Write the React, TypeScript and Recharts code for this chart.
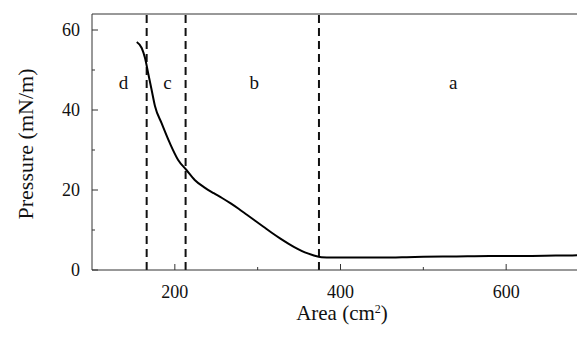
import React from 'react';
import { LineChart, Line, XAxis, YAxis, ReferenceLine, ReferenceDot } from 'recharts';

// isotherm
const areas = [154, 160, 164, 168, 172, 176, 184, 194, 204, 214, 224, 236, 247, 257, 267, 277, 287, 297, 307, 317, 327, 337, 347, 357, 367, 377, 390, 420, 450, 480, 500, 540, 580, 620, 660, 700];
const pressures = [57, 55.5, 53, 49, 45, 41, 36.7, 31.7, 27.5, 25, 22.5, 20.6, 19.2, 18, 16.7, 15.3, 13.8, 12.3, 10.8, 9.3, 7.9, 6.6, 5.4, 4.4, 3.7, 3.2, 3.1, 3.1, 3.1, 3.2, 3.3, 3.4, 3.5, 3.5, 3.6, 3.7];

const phaseBounds = [166, 213, 374];
const phaseLabels = ['d', 'c', 'b', 'a'];
const phaseLabelX = [138, 191, 296, 536];
const phaseLabelY = 47;

const xTicks = [200, 300, 400, 500, 600];
const xMajor = [200, 400, 600];
const yTicks = [0, 10, 20, 30, 40, 50, 60];
const yMajor = [0, 20, 40, 60];

const data = areas.map((a, i) => ({ area: a, pressure: pressures[i] }));

const FONT = '"Liberation Serif", "Times New Roman", serif';

const XTick = (props: any) => {
  const { x, y, payload } = props;
  const major = xMajor.includes(payload.value);
  return (
    <g>
      <line x1={x} x2={x} y1={y} y2={y - (major ? 6 : 3)} stroke="#333" strokeWidth={1} />
      {major && (
        <text x={x} y={y + 28} textAnchor="middle" fontSize={18} fontFamily={FONT} fill="#111">
          {payload.value}
        </text>
      )}
    </g>
  );
};

const YTick = (props: any) => {
  const { x, y, payload } = props;
  const major = yMajor.includes(payload.value);
  return (
    <g>
      <line x1={x} x2={x + (major ? 6 : 3)} y1={y} y2={y} stroke="#333" strokeWidth={1} />
      {major && (
        <text x={x - 12} y={y + 6} textAnchor="end" fontSize={18} fontFamily={FONT} fill="#111">
          {payload.value}
        </text>
      )}
    </g>
  );
};

export default function App() {
  return (
    <div style={{ position: 'absolute', left: 0, top: 0, width: 577, height: 349, overflow: 'hidden', background: '#fff' }}>
      <LineChart width={600} height={349} data={data} margin={{ top: 14, right: 11, bottom: 0, left: 0 }}>
        <XAxis
          dataKey="area"
          type="number"
          domain={[100, 700]}
          ticks={xTicks}
          tick={<XTick />}
          tickLine={false}
          tickSize={0}
          tickMargin={0}
          axisLine={{ stroke: '#333' }}
          height={79}
        />
        <YAxis
          type="number"
          domain={[0, 64]}
          ticks={yTicks}
          tick={<YTick />}
          tickLine={false}
          tickSize={0}
          tickMargin={0}
          axisLine={{ stroke: '#333' }}
          width={92}
        />
        <ReferenceLine y={64} stroke="#333" strokeWidth={1} />
        {phaseBounds.map((b) => (
          <ReferenceLine key={b} x={b} stroke="#111" strokeWidth={2} strokeDasharray="8 5" />
        ))}
        {phaseLabels.map((l, i) => (
          <ReferenceDot
            key={l}
            x={phaseLabelX[i]}
            y={phaseLabelY}
            r={0}
            fill="none"
            stroke="none"
            label={{ value: l, position: 'center', fontSize: 19, fontFamily: FONT, fill: '#111' }}
          />
        ))}
        <Line
          dataKey="pressure"
          type="monotone"
          stroke="#000"
          strokeWidth={2}
          dot={false}
          isAnimationActive={false}
        />
        <text x={25} y={144} transform="rotate(-90 25 144)" textAnchor="middle" dominantBaseline="central" fontSize={22} fontFamily={FONT} fill="#111">
          Pressure (mN/m)
        </text>
        <text x={342} y={320} textAnchor="middle" fontSize={21} fontFamily={FONT} fill="#111">
          Area (cm<tspan baselineShift="super" fontSize={12}>2</tspan>)
        </text>
      </LineChart>
    </div>
  );
}
